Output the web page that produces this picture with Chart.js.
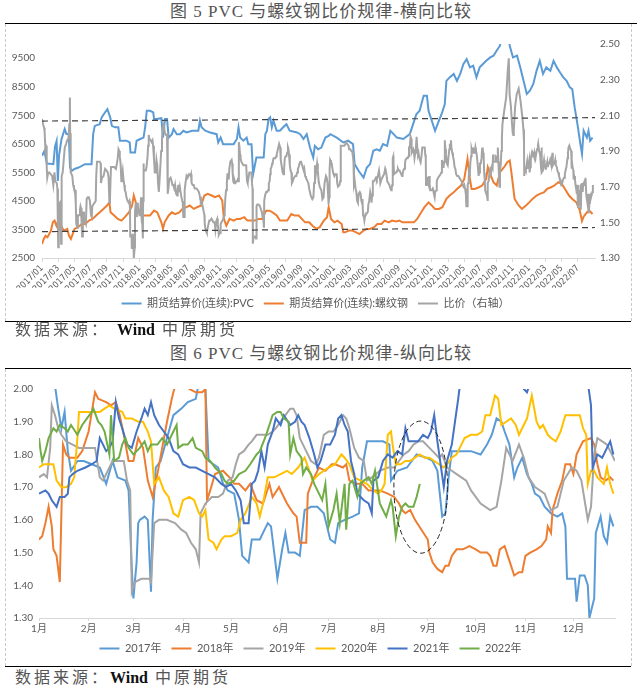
<!DOCTYPE html>
<html>
<head>
<meta charset="utf-8">
<script src="https://cdn.jsdelivr.net/npm/chart.js@4.4.1/dist/chart.umd.min.js"></script>
<style>
  body { margin: 0; background: #fff; width: 642px; height: 692px; position: relative; overflow: hidden;
         font-family: "Liberation Serif", "Noto Sans CJK SC", serif; }
  .title { position: absolute; left: 0; width: 642px; text-align: center; font-size: 17px; line-height: 20px;
           color: #555; letter-spacing: 1px; }
  .src { position: absolute; left: 15px; font-size: 16px; line-height: 20px; color: #555; letter-spacing: 3px; }
  .src b { color: #111; font-weight: bold; letter-spacing: 0; }
  .rule { position: absolute; height: 0; border-top: 1.5px solid #000; }
  .box { position: absolute; border-left: 1px dashed #c8c8c8; border-right: 1px dashed #c8c8c8; }
  canvas { position: absolute; }
</style>
</head>
<body>
<div class="title" style="top:2px">图 5 PVC 与螺纹钢比价规律-横向比较</div>
<div class="rule" style="left:5px;top:23px;width:632px"></div>
<div class="box" style="left:5px;top:24px;width:625px;height:297px"></div>
<canvas id="chartTrend" width="631" height="297" style="left:0px;top:24px"></canvas>
<div class="rule" style="left:5px;top:321px;width:626px"></div>
<div class="src" style="top:320px">数据来源： <b>Wind</b>  中原期货</div>

<div class="title" style="top:344px">图 6 PVC 与螺纹钢比价规律-纵向比较</div>
<div class="rule" style="left:5px;top:368px;width:626px"></div>
<div class="box" style="left:5px;top:369px;width:625px;height:297px"></div>
<canvas id="chartYears" width="625" height="298" style="left:6px;top:368px"></canvas>
<div class="rule" style="left:5px;top:666px;width:626px"></div>
<div class="src" style="top:668px">数据来源：<b>Wind</b>  中原期货</div>

<script>
// ---- chart 1: [month since 2017/01, price] ----
const pvcSeries = [[0,6080],[0.3,6250],[0.6,5800],[1.0,5800],[1.4,5790],[1.6,6400],[1.8,6600],[1.95,5200],[2.1,6100],[2.4,6660],[2.8,7020],[3.0,6850],[3.3,6850],[3.45,5670],[3.65,5550],[4.0,5620],[4.5,5670],[5.3,5790],[6.1,5790],[6.3,6840],[6.5,7130],[7.1,7190],[7.35,7430],[7.75,7600],[8.05,7720],[8.4,7430],[8.6,7130],[9.0,7080],[9.4,7080],[9.6,6610],[10.4,6610],[10.8,6550],[10.9,6200],[11.45,6200],[11.65,6610],[12.1,6670],[12.5,6720],[12.7,7080],[12.9,7660],[13.3,7660],[13.7,7600],[13.8,7370],[14.1,7370],[14.7,7400],[14.9,6720],[15.15,7370],[15.4,7370],[15.6,6720],[16.0,6840],[16.2,7020],[16.6,6840],[17.0,6840],[17.4,6960],[17.8,6900],[18.5,6960],[19.25,6960],[19.45,7310],[19.65,7080],[20.1,6960],[20.7,6900],[21.5,6840],[21.7,6550],[22.0,6720],[22.3,6490],[23.6,6490],[24.0,6670],[24.2,7080],[24.4,6720],[24.8,6610],[25.2,6720],[25.4,6490],[25.8,6490],[26.0,5440],[26.4,6020],[27.3,6020],[27.5,6840],[27.7,6960],[27.9,7370],[28.1,7430],[28.3,7080],[28.5,7310],[28.9,6960],[29.3,6960],[29.7,7080],[30.1,7190],[30.5,6960],[31.4,6900],[31.8,6840],[32.2,6670],[32.6,6840],[33.0,6370],[33.4,6020],[33.6,6430],[34.0,6310],[34.4,6370],[34.9,6720],[35.3,6780],[35.5,6840],[36.3,6720],[37.1,6550],[37.7,6610],[38.3,6490],[38.5,5790],[39.0,5550],[39.6,5320],[40.0,5670],[40.4,5790],[40.8,6260],[41.2,6310],[41.6,6260],[42.0,6490],[42.5,6430],[42.9,6960],[43.3,6840],[43.7,6720],[44.5,6670],[45.3,6840],[45.7,7190],[46.1,7540],[46.5,7660],[47.0,8190],[47.4,8190],[47.6,7660],[48.0,7310],[48.4,6960],[48.8,7250],[49.2,7540],[49.6,7890],[49.8,8710],[50.2,8830],[50.7,8950],[51.1,8710],[51.5,8950],[51.9,9300],[52.3,9470],[52.7,9180],[53.1,9240],[53.5,8830],[53.9,9180],[54.3,9300],[54.7,9410],[55.2,9530],[55.6,9590],[56.0,9770],[56.4,9940],[56.8,10600],[57.2,11800],[57.4,10500],[57.6,9940],[58.0,9530],[58.5,9590],[58.9,9180],[59.3,8710],[59.7,8250],[60.1,8370],[60.5,8600],[60.9,9060],[61.3,9410],[61.7,8950],[62.1,9180],[62.6,9060],[63.0,9410],[63.4,9180],[63.8,9000],[64.2,8830],[64.6,8710],[65.0,8480],[65.3,8420],[65.6,7770],[65.8,7430],[66.0,7080],[66.3,6490],[66.5,6140],[66.7,6960],[67.1,6720],[67.3,6960],[67.5,6610],[67.8,6720]];

const rebarSeries = [[0,2990],[0.22,3170],[0.44,3280],[0.67,3230],[0.89,3340],[1.1,3460],[1.33,3750],[1.55,3810],[1.78,3630],[2.0,3810],[2.22,3520],[2.45,3580],[2.67,3460],[3.11,3520],[3.33,3280],[3.56,3170],[3.78,3340],[4.0,3520],[4.44,3580],[4.89,3690],[5.33,3690],[5.78,3810],[6.22,3870],[6.67,3990],[7.11,4100],[7.56,4220],[8.0,4340],[8.3,4450],[8.44,4100],[8.89,3990],[9.33,3870],[9.78,3810],[10.2,3930],[10.7,4100],[11.1,4340],[11.3,4690],[11.6,4400],[12.0,4100],[12.4,3990],[12.9,3990],[13.3,3990],[13.8,4160],[14.2,4100],[14.7,3750],[14.9,3520],[15.1,3750],[15.6,3990],[16.0,4100],[16.4,4040],[16.9,4100],[17.3,4220],[17.8,4280],[18.2,4340],[18.7,4220],[19.1,4280],[19.6,4340],[20.0,4690],[20.4,4750],[20.9,4690],[21.3,4630],[21.8,4690],[22.2,4510],[22.4,3870],[22.7,3630],[23.1,3870],[23.6,3810],[24.0,3870],[24.4,3870],[24.9,3930],[25.3,3810],[25.8,3810],[26.2,3810],[26.7,3870],[27.1,3870],[27.6,4160],[28.0,4160],[28.4,4100],[28.9,3990],[29.3,3810],[29.8,3810],[30.2,3810],[30.7,4040],[31.1,3990],[31.6,3990],[32.0,3870],[32.4,3750],[32.9,3750],[33.3,3630],[33.8,3520],[34.2,3580],[34.7,3810],[35.1,3930],[35.3,4280],[35.6,3870],[36.0,3750],[36.4,3810],[36.9,3690],[37.1,3400],[37.3,3400],[37.8,3460],[38.2,3460],[38.7,3400],[39.1,3340],[39.6,3460],[40.0,3520],[40.4,3520],[40.9,3580],[41.3,3690],[41.8,3690],[42.2,3810],[42.7,3750],[43.1,3810],[43.6,3780],[44.0,3810],[44.4,3750],[44.9,3750],[45.3,3750],[45.8,3750],[46.2,3870],[46.7,4100],[47.1,4280],[47.6,4450],[48.0,4340],[48.4,4220],[48.9,4220],[49.3,4280],[49.8,4570],[50.2,4690],[50.7,4800],[51.1,4920],[51.6,5040],[52.0,5270],[52.4,5970],[52.7,5270],[52.9,4920],[53.3,4920],[53.8,4980],[54.2,5040],[54.7,5270],[54.9,5680],[55.1,5510],[55.6,5160],[56.0,5040],[56.4,5510],[56.9,5680],[57.3,5860],[57.6,5920],[57.8,5510],[58.2,4570],[58.7,4340],[59.1,4220],[59.6,4340],[60.0,4450],[60.4,4570],[60.9,4690],[61.3,4750],[61.8,4800],[62.2,4920],[62.7,4980],[63.1,5040],[63.6,5160],[64.0,5100],[64.4,4920],[64.9,4690],[65.3,4570],[65.8,4450],[66.2,4200],[66.5,3800],[66.7,3950],[67.1,4100],[67.4,4160],[67.8,4040]];

// dashed guide lines on the ratio axis, [left end, right end]
const upperBand = [2.068, 2.087];
const lowerBand = [1.448, 1.471];

// ---- chart 2: ratio by year, [day of year, ratio] ----
const years = ['2017年', '2018年', '2019年', '2020年', '2021年', '2022年'];
const yearColors = ['#5B9BD5', '#ED7D31', '#A5A5A5', '#FFC000', '#4472C4', '#70AD47'];

const ratio2017 = [[0,2.08],[4,2.05],[8,2.03],[10,2.01],[12,1.94],[14,1.88],[16,1.93],[18,1.81],[20,1.75],[24,1.78],[28,1.78],[33,1.77],[38,1.76],[42,1.71],[46,1.78],[49,1.73],[54,1.72],[56,1.69],[58,1.45],[59,1.36],[61,1.47],[62,1.59],[63,1.60],[66,1.61],[68,1.60],[70,1.38],[71,1.60],[73,1.76],[76,1.78],[80,1.85],[84,1.92],[89,1.94],[93,1.96],[98,1.97],[101,2.05],[103,2.20],[104,2.00],[106,1.78],[109,1.77],[112,1.76],[115,1.71],[118,1.69],[122,1.68],[125,1.60],[127,1.49],[131,1.47],[133,1.54],[136,1.54],[138,1.54],[141,1.57],[143,1.59],[145,1.58],[147,1.50],[149,1.42],[152,1.51],[154,1.56],[156,1.50],[160,1.50],[163,1.49],[166,1.63],[170,1.64],[174,1.64],[178,1.62],[182,1.54],[185,1.53],[187,1.59],[191,1.60],[196,1.61],[200,1.62],[202,1.76],[205,1.84],[210,1.84],[215,1.84],[219,1.83],[220,1.72],[224,1.75],[230,1.76],[236,1.80],[242,1.79],[246,1.78],[249,1.75],[252,1.61],[254,1.62],[256,1.73],[258,1.81],[264,1.81],[270,1.81],[276,1.80],[280,1.83],[283,1.86],[286,1.91],[289,1.90],[291,1.87],[294,1.83],[297,1.73],[299,1.76],[302,1.79],[305,1.74],[308,1.71],[310,1.68],[313,1.67],[316,1.64],[320,1.62],[324,1.61],[327,1.62],[329,1.58],[330,1.42],[335,1.42],[336,1.35],[338,1.43],[341,1.43],[343,1.40],[344,1.30],[347,1.36],[348,1.56],[351,1.61],[353,1.55],[355,1.53],[357,1.61],[359,1.58]];

const ratio2018 = [[0,1.54],[2,1.55],[4,1.59],[6,1.64],[8,1.58],[9,1.51],[11,1.49],[13,1.41],[14,1.62],[15,1.83],[17,1.80],[19,1.79],[24,1.79],[27,1.81],[31,1.87],[33,1.93],[35,1.99],[37,1.97],[42,1.96],[45,1.95],[48,1.96],[50,1.93],[53,1.86],[56,1.78],[59,1.78],[62,1.85],[65,1.82],[68,1.72],[71,1.67],[74,1.74],[77,1.82],[80,1.90],[83,1.97],[86,2.03],[90,2.05],[94,2.00],[98,1.99],[102,1.99],[104,2.00],[105,1.66],[107,1.69],[110,1.74],[115,1.75],[119,1.73],[122,1.71],[125,1.71],[129,1.69],[132,1.71],[136,1.66],[140,1.65],[142,1.68],[144,1.71],[146,1.67],[150,1.70],[152,1.68],[155,1.65],[159,1.62],[161,1.61],[163,1.53],[167,1.53],[168,1.68],[171,1.72],[175,1.76],[179,1.75],[183,1.77],[185,1.77],[190,1.76],[192,1.77],[194,1.72],[198,1.71],[202,1.71],[206,1.69],[210,1.69],[213,1.69],[218,1.68],[222,1.67],[225,1.65],[227,1.63],[229,1.62],[232,1.63],[235,1.60],[239,1.57],[243,1.54],[244,1.50],[246,1.47],[249,1.45],[252,1.44],[254,1.46],[256,1.46],[258,1.49],[261,1.51],[265,1.51],[269,1.52],[273,1.51],[276,1.50],[280,1.50],[282,1.49],[284,1.46],[286,1.46],[288,1.51],[291,1.52],[293,1.49],[295,1.46],[297,1.43],[300,1.44],[302,1.44],[304,1.49],[307,1.50],[311,1.51],[314,1.52],[317,1.54],[318,1.58],[320,1.56],[321,1.63],[324,1.68],[327,1.72],[329,1.77],[332,1.77],[334,1.74],[336,1.80],[340,1.84],[345,1.85],[347,1.83],[349,1.77],[351,1.73],[354,1.72],[357,1.73],[359,1.72]];

const ratio2019 = [[0,1.73],[3,1.74],[5,1.73],[7,1.82],[8,1.95],[10,1.92],[12,1.88],[14,1.86],[17,1.84],[21,1.83],[25,1.82],[30,1.82],[35,1.82],[38,1.73],[40,1.72],[43,1.75],[46,1.78],[50,1.78],[53,1.78],[55,1.72],[57,1.69],[58,1.38],[60,1.41],[64,1.42],[69,1.42],[70,1.41],[72,1.59],[75,1.60],[80,1.60],[85,1.59],[89,1.57],[92,1.56],[95,1.53],[98,1.51],[100,1.47],[101,1.62],[104,1.65],[108,1.67],[112,1.67],[115,1.68],[118,1.72],[121,1.73],[123,1.77],[125,1.80],[128,1.81],[131,1.83],[133,1.84],[136,1.86],[140,1.86],[143,1.86],[146,1.87],[148,1.88],[151,1.90],[154,1.92],[157,1.94],[159,1.94],[161,1.92],[163,1.85],[166,1.82],[170,1.78],[173,1.77],[175,1.79],[178,1.86],[181,1.87],[184,1.87],[187,1.89],[190,1.92],[192,1.91],[194,1.88],[197,1.82],[200,1.79],[203,1.78],[205,1.72],[208,1.73],[213,1.75],[218,1.76],[222,1.76],[225,1.78],[228,1.80],[231,1.81],[234,1.83],[237,1.84],[240,1.84],[244,1.82],[246,1.81],[250,1.79],[252,1.80],[255,1.76],[258,1.75],[261,1.74],[264,1.73],[267,1.72],[270,1.69],[276,1.65],[282,1.63],[286,1.64],[289,1.72],[292,1.82],[296,1.78],[300,1.83],[303,1.79],[306,1.73],[310,1.70],[316,1.68],[320,1.63],[324,1.64],[328,1.72],[333,1.76],[336,1.75],[339,1.72],[341,1.66],[343,1.60],[345,1.64],[347,1.80],[349,1.85],[352,1.84],[355,1.83],[358,1.80],[360,1.78]];

const ratio2020 = [[0,1.76],[3,1.77],[6,1.77],[9,1.77],[11,1.72],[14,1.70],[17,1.70],[20,1.71],[22,1.73],[24,1.85],[25,1.93],[28,1.93],[33,1.93],[38,1.93],[41,1.94],[44,1.95],[47,1.94],[52,1.93],[54,1.91],[58,1.91],[62,1.90],[65,1.90],[68,1.87],[70,1.84],[72,1.71],[75,1.73],[78,1.69],[81,1.67],[84,1.62],[87,1.61],[90,1.66],[94,1.67],[97,1.66],[100,1.62],[102,1.61],[104,1.63],[106,1.54],[109,1.53],[111,1.51],[114,1.54],[116,1.55],[120,1.55],[124,1.56],[126,1.60],[129,1.62],[133,1.67],[136,1.65],[138,1.61],[140,1.65],[143,1.73],[147,1.73],[151,1.74],[155,1.75],[158,1.74],[162,1.76],[166,1.79],[169,1.75],[171,1.72],[175,1.74],[178,1.75],[181,1.76],[185,1.77],[189,1.80],[191,1.79],[194,1.77],[197,1.73],[201,1.72],[205,1.71],[209,1.69],[212,1.68],[214,1.69],[216,1.71],[218,1.86],[220,1.87],[221,1.83],[223,1.77],[226,1.77],[229,1.78],[232,1.78],[235,1.79],[238,1.80],[241,1.79],[244,1.79],[247,1.78],[250,1.77],[253,1.76],[255,1.77],[258,1.79],[261,1.80],[264,1.83],[266,1.85],[270,1.86],[274,1.86],[277,1.87],[279,1.92],[282,1.92],[285,1.98],[287,1.97],[289,1.89],[292,1.90],[295,1.91],[298,1.89],[300,1.86],[303,1.89],[305,1.91],[308,1.98],[311,1.90],[313,1.88],[315,1.89],[318,1.86],[320,1.85],[323,1.84],[326,1.87],[329,1.92],[333,1.92],[338,1.92],[340,1.88],[342,1.86],[343,1.71],[345,1.75],[347,1.75],[349,1.73],[351,1.72],[353,1.71],[355,1.76],[357,1.71],[359,1.68]];

const ratio2021 = [[0,1.68],[4,1.69],[6,1.68],[8,1.66],[11,1.64],[13,1.67],[16,1.67],[18,1.68],[19,1.73],[21,1.74],[24,1.75],[29,1.76],[33,1.77],[36,1.78],[38,1.85],[40,1.83],[42,1.81],[44,1.82],[46,1.84],[48,1.96],[50,1.91],[52,1.88],[55,1.83],[58,1.82],[61,1.87],[64,1.91],[66,1.94],[68,1.92],[70,1.96],[72,1.92],[75,1.89],[78,1.87],[81,1.85],[84,1.81],[87,1.80],[90,1.77],[94,1.76],[98,1.76],[102,1.75],[106,1.74],[110,1.73],[114,1.71],[117,1.70],[120,1.71],[123,1.69],[126,1.66],[128,1.59],[131,1.59],[133,1.71],[135,1.72],[137,1.75],[139,1.81],[141,1.76],[143,1.83],[146,1.87],[148,1.91],[151,1.89],[153,1.92],[157,1.89],[160,1.90],[162,1.92],[164,1.90],[166,1.89],[169,1.85],[172,1.80],[174,1.76],[176,1.78],[179,1.83],[182,1.83],[185,1.86],[187,1.91],[189,1.92],[191,1.89],[193,1.87],[195,1.78],[197,1.74],[199,1.68],[203,1.66],[206,1.65],[208,1.62],[209,1.72],[212,1.73],[215,1.78],[218,1.80],[221,1.79],[224,1.81],[227,1.80],[229,1.88],[231,1.84],[234,1.84],[237,1.84],[240,1.86],[243,1.85],[245,1.87],[247,1.92],[249,1.84],[251,1.77],[253,1.70],[255,1.78],[258,1.83],[260,1.90],[262,1.97],[264,2.05],[270,2.12],[278,2.20],[284,2.35],[288,2.42],[291,2.22],[296,2.15],[300,2.06],[303,2.00],[305,1.99],[307,2.02],[312,2.15],[318,2.22],[325,2.25],[332,2.18],[338,2.10],[343,2.02],[345,1.95],[346,1.76],[349,1.80],[352,1.79],[355,1.82],[357,1.84],[359,1.80]];

const ratio2022 = [[0,1.85],[1,1.81],[2,1.78],[4,1.81],[6,1.85],[9,1.88],[11,1.87],[13,1.89],[16,1.88],[18,1.87],[20,1.89],[24,1.86],[27,1.89],[30,1.91],[33,1.93],[34,1.94],[37,1.90],[39,1.89],[41,1.87],[44,1.80],[45,1.92],[47,1.78],[50,1.79],[52,1.83],[54,1.85],[56,1.82],[59,1.80],[61,1.81],[63,1.82],[66,1.84],[68,1.81],[70,1.83],[74,1.83],[77,1.85],[80,1.83],[83,1.86],[86,1.89],[87,1.82],[90,1.83],[93,1.83],[96,1.85],[98,1.82],[102,1.81],[104,1.79],[107,1.78],[110,1.76],[114,1.74],[116,1.72],[118,1.71],[122,1.72],[125,1.74],[129,1.75],[132,1.77],[136,1.80],[138,1.81],[142,1.86],[144,1.89],[146,1.92],[149,1.93],[151,1.93],[153,1.91],[156,1.90],[157,1.80],[159,1.85],[161,1.81],[164,1.79],[165,1.74],[167,1.76],[170,1.74],[172,1.71],[174,1.69],[177,1.66],[179,1.71],[181,1.58],[184,1.63],[186,1.68],[188,1.59],[191,1.71],[192,1.57],[194,1.71],[196,1.72],[199,1.67],[201,1.71],[203,1.72],[206,1.73],[208,1.71],[210,1.75],[213,1.65],[215,1.63],[217,1.61],[220,1.66],[221,1.64],[223,1.55],[225,1.61],[227,1.64],[229,1.65],[231,1.64],[234,1.64],[236,1.67],[238,1.71]];

const ratioByYear = [ratio2017, ratio2018, ratio2019, ratio2020, ratio2021, ratio2022];

// circled area on chart 2, in data units
const ringMark = { day: 238.6, ratio: 1.70, dayRadius: 16.8, ratioRadius: 0.202 };

const monthStart = [0, 31, 59, 90, 120, 151, 181, 212, 243, 273, 304, 334, 365];

function dayToMonth(d) {
  let m = 0;
  while (m < 11 && d >= monthStart[m + 1]) m++;
  return m + (d - monthStart[m]) / (monthStart[m + 1] - monthStart[m]);
}

function monthLabel(v) {
  const y = 2017 + Math.floor(v / 12);
  const m = v % 12 + 1;
  return y + '/' + String(m).padStart(2, '0');
}

const toPoints = arr => arr.map(p => ({ x: p[0], y: p[1] }));
const byIndex = (a, b) => a.datasetIndex - b.datasetIndex;

Chart.defaults.font.family = 'Lato, "Noto Sans CJK SC", sans-serif';
Chart.defaults.color = '#595959';
Chart.defaults.animation = false;

const ratioAllYears = [];
ratioByYear.forEach((arr, i) => {
  arr.forEach(p => ratioAllYears.push({ x: i * 12 + dayToMonth(p[0]), y: p[1] }));
});

const xMax1 = 68.1;

new Chart(document.getElementById('chartTrend'), {
  type: 'line',
  data: {
    datasets: [{
      label: '期货结算价(连续):PVC',
      data: toPoints(pvcSeries),
      borderColor: '#5B9BD5', backgroundColor: '#5B9BD5',
      borderWidth: 2, pointRadius: 0, yAxisID: 'y', order: 2
    }, {
      label: '期货结算价(连续):螺纹钢',
      data: toPoints(rebarSeries),
      borderColor: '#ED7D31', backgroundColor: '#ED7D31',
      borderWidth: 2, pointRadius: 0, yAxisID: 'y', order: 3
    }, {
      label: '比价（右轴）',
      data: ratioAllYears,
      borderColor: '#A5A5A5', backgroundColor: '#A5A5A5',
      borderWidth: 2, pointRadius: 0, yAxisID: 'y1', order: 1
    }, {
      label: 'upper',
      data: [{ x: 0, y: upperBand[0] }, { x: xMax1, y: upperBand[1] }],
      borderColor: '#404040', borderWidth: 1.2, borderDash: [6, 4],
      pointRadius: 0, yAxisID: 'y1', order: 0
    }, {
      label: 'lower',
      data: [{ x: 0, y: lowerBand[0] }, { x: xMax1, y: lowerBand[1] }],
      borderColor: '#404040', borderWidth: 1.2, borderDash: [6, 4],
      pointRadius: 0, yAxisID: 'y1', order: 0
    }]
  },
  options: {
    responsive: false,
    devicePixelRatio: 1,
    layout: { padding: { top: 20, bottom: 2 } },
    plugins: {
      legend: {
        position: 'bottom',
        labels: {
          usePointStyle: true, pointStyle: 'line', pointStyleWidth: 20,
          font: { size: 11 }, color: '#595959', padding: 10,
          filter: item => item.datasetIndex < 3,
          sort: byIndex
        }
      },
      tooltip: { enabled: false }
    },
    scales: {
      x: {
        type: 'linear', min: 0, max: xMax1,
        afterBuildTicks: s => { s.ticks = []; for (let v = 0; v <= 66; v += 2) s.ticks.push({ value: v }); },
        afterFit: s => { s.height = 30; s.paddingLeft = 0; s.paddingRight = 0; },
        ticks: { autoSkip: false, maxRotation: 45, minRotation: 45, padding: 1,
                 font: { size: 9, family: '"Liberation Sans Narrow", "DejaVu Sans Condensed", Lato, sans-serif' },
                 callback: v => monthLabel(v) },
        grid: { drawOnChartArea: false, drawTicks: true, tickLength: 4, color: '#d9d9d9' },
        border: { color: '#d9d9d9' }
      },
      y: {
        position: 'left', min: 2500, max: 10000,
        afterBuildTicks: s => { s.ticks = []; for (let v = 2500; v <= 9500; v += 1000) s.ticks.push({ value: v }); },
        afterFit: s => { s.width = 42; },
        ticks: { font: { size: 10 }, padding: 7, callback: v => String(v) },
        grid: { display: false, drawTicks: false },
        border: { display: false }
      },
      y1: {
        position: 'right', min: 1.3, max: 2.5,
        afterBuildTicks: s => { s.ticks = [1.3, 1.5, 1.7, 1.9, 2.1, 2.3, 2.5].map(v => ({ value: v })); },
        afterFit: s => { s.width = 36; },
        ticks: { font: { size: 10 }, padding: 5, callback: v => v.toFixed(2) },
        grid: { display: false, drawTicks: false },
        border: { display: false }
      }
    }
  }
});

const ringPlugin = {
  id: 'ringMark',
  afterDatasetsDraw(chart) {
    const { ctx } = chart;
    const x = chart.scales.x, y = chart.scales.y;
    const cx = x.getPixelForValue(ringMark.day);
    const cy = y.getPixelForValue(ringMark.ratio);
    const rx = Math.abs(x.getPixelForValue(ringMark.day + ringMark.dayRadius) - cx);
    const ry = Math.abs(y.getPixelForValue(ringMark.ratio + ringMark.ratioRadius) - cy);
    ctx.save();
    ctx.setLineDash([5, 3]);
    ctx.lineWidth = 1;
    ctx.strokeStyle = '#222';
    ctx.beginPath();
    ctx.ellipse(cx, cy, rx, ry, 0, 0, Math.PI * 2);
    ctx.stroke();
    ctx.restore();
  }
};

new Chart(document.getElementById('chartYears'), {
  type: 'line',
  data: {
    datasets: ratioByYear.map((arr, i) => ({
      label: years[i],
      data: toPoints(arr),
      borderColor: yearColors[i], backgroundColor: yearColors[i],
      borderWidth: 2, pointRadius: 0, order: 6 - i
    }))
  },
  options: {
    responsive: false,
    devicePixelRatio: 1,
    layout: { padding: { top: 21, right: 16, bottom: 2 } },
    plugins: {
      legend: {
        position: 'bottom',
        labels: { usePointStyle: true, pointStyle: 'line', pointStyleWidth: 20, font: { size: 11 }, color: '#595959', padding: 10, sort: byIndex }
      },
      tooltip: { enabled: false }
    },
    scales: {
      x: {
        type: 'linear', min: 0, max: 360,
        afterBuildTicks: s => { s.ticks = monthStart.slice(0, 12).map(v => ({ value: v })); },
        afterFit: s => { s.height = 15; s.paddingLeft = 0; s.paddingRight = 0; },
        ticks: { autoSkip: false, maxRotation: 0, font: { size: 10 }, padding: 2,
                 callback: v => (monthStart.indexOf(v) + 1) + '月' },
        grid: { drawOnChartArea: false, drawTicks: true, tickLength: 3, color: '#d9d9d9' },
        border: { color: '#d9d9d9' }
      },
      y: {
        min: 1.3, max: 2.0,
        afterBuildTicks: s => { s.ticks = [1.3, 1.4, 1.5, 1.6, 1.7, 1.8, 1.9, 2.0].map(v => ({ value: v })); },
        afterFit: s => { s.width = 33; },
        ticks: { font: { size: 10 }, padding: 6, callback: v => v.toFixed(2) },
        grid: { display: false, drawTicks: false },
        border: { display: false }
      }
    }
  },
  plugins: [ringPlugin]
});
</script>
</body>
</html>
